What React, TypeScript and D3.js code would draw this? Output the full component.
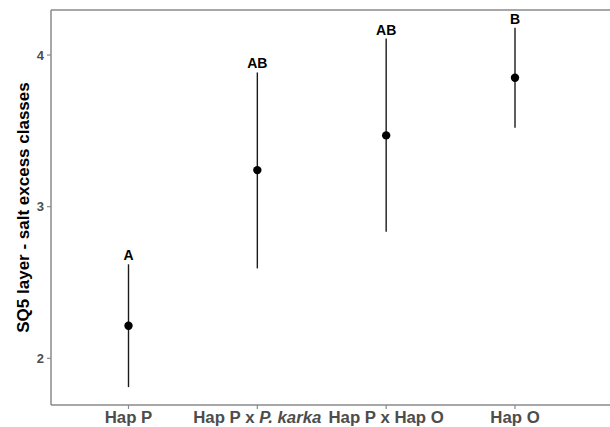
import React from "react";
import * as d3 from "d3";

const categories = ["Hap P", "Hap P x P. karka", "Hap P x Hap O", "Hap O"];
const means = [2.215, 3.241, 3.47, 3.85];
const lowers = [1.81, 2.593, 2.835, 3.52];
const uppers = [2.62, 3.885, 4.109, 4.18];
const groupLetters = ["A", "AB", "AB", "B"];
const yTicks = [2, 3, 4];

const W = 610;
const H = 427;
const left = 51;
const top = 10;
const bottom = 405;

export default function App() {
  const x = d3.scalePoint<string>().domain(categories).range([128.5, 515]);
  const y = d3.scaleLinear().domain([1.692, 4.297]).range([bottom, top]);
  const font = "Liberation Sans, Arial, sans-serif";

  return (
    <svg width={W} height={H} style={{ position: "absolute", left: 0, top: 0, background: "#fff" }}>
      <rect x={0} y={0} width={W} height={H} fill="#fff" />
      {/* axes */}
      <line x1={left} x2={W} y1={top} y2={top} stroke="#8a8a8a" strokeWidth={1.5} />
      <line x1={left} x2={left} y1={top} y2={bottom} stroke="#8a8a8a" strokeWidth={1.5} />
      <line x1={left} x2={W} y1={bottom} y2={bottom} stroke="#8a8a8a" strokeWidth={1.5} />
      {yTicks.map((t) => (
        <g key={t}>
          <line x1={left - 4} x2={left} y1={y(t)} y2={y(t)} stroke="#8a8a8a" strokeWidth={1.2} />
          <text x={left - 7} y={y(t)} dy="0.36em" textAnchor="end" fontFamily={font} fontWeight="bold" fontSize={13} fill="#4d4d4d">
            {t}
          </text>
        </g>
      ))}
      {categories.map((c) => (
        <g key={c}>
          <line x1={x(c)} x2={x(c)} y1={bottom} y2={bottom + 4} stroke="#8a8a8a" strokeWidth={1.2} />
          <text x={x(c)} y={423} textAnchor="middle" fontFamily={font} fontWeight="bold" fontSize={16.8} fill="#4d4d4d">
            {c === "Hap P x P. karka" ? (
              <>
                <tspan>Hap P x </tspan>
                <tspan fontStyle="italic">P. karka</tspan>
              </>
            ) : (
              c
            )}
          </text>
        </g>
      ))}
      <text
        transform={`translate(28.5,207.5) rotate(-90)`}
        textAnchor="middle"
        fontFamily={font}
        fontWeight="bold"
        fontSize={17}
        fill="#000"
      >
        SQ5 layer - salt excess classes
      </text>
      {/* error bars */}
      {categories.map((c, i) => (
        <g key={c}>
          <line x1={x(c)} x2={x(c)} y1={y(lowers[i])} y2={y(uppers[i])} stroke="#1a1a1a" strokeWidth={1.4} />
          <circle cx={x(c)} cy={y(means[i])} r={4.2} fill="#000" />
          <text x={x(c)} y={y(uppers[i]) - 4} textAnchor="middle" fontFamily={font} fontWeight="bold" fontSize={14} fill="#000">
            {groupLetters[i]}
          </text>
        </g>
      ))}
    </svg>
  );
}
